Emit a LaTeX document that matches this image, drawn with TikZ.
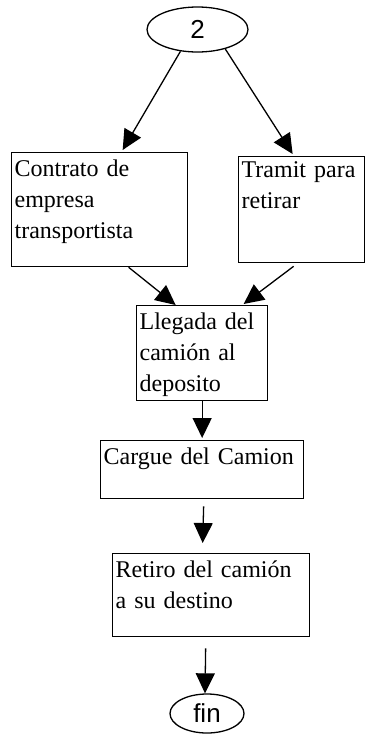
\documentclass[tikz,border=0pt]{standalone}
\usepackage{fontspec}
\setmainfont{Liberation Serif}
\newfontfamily\arialfam{Liberation Sans}
\usetikzlibrary{arrows.meta,shapes.geometric}

\begin{document}
\begin{tikzpicture}[x=1pt,y=-1pt,
    caja/.style={draw, rectangle, line width=1.3pt, anchor=north west,
        align=left, inner xsep=3pt, inner ysep=0pt, text height=24pt,
        font=\fontsize{24}{31}\selectfont},
    terminal/.style={draw, ellipse, line width=1.3pt, inner sep=0pt,
        font=\arialfam\fontsize{26}{30}\selectfont},
    flecha/.style={line width=1.3pt, -{Triangle[length=20pt,width=19pt]}}]

\useasboundingbox (0,0) rectangle (365,739);

% Terminals & boxes
\node[  terminal,
        minimum width=101pt,
        minimum height=45pt
    ] (dos) at (197.5,29.5) {2};
\node[  caja,
        text width=170pt,
        text depth=90pt
    ] (contrato) at (11,152) {Contrato de\\empresa\\transportista};
\node[  caja,
        text width=120pt,
        text height=21pt,
        text depth=85pt
    ] (tramit) at (238,156) {Tramit para\\retirar};
\node[  caja,
        text width=125pt,
        text depth=71pt
    ] (llegada) at (136,305) {Llegada del\\cami\'on al\\deposito};
\node[  caja,
        text width=197pt,
        text depth=34pt
    ] (cargue) at (100,440) {Cargue del Camion};
\node[  caja,
        text width=191pt,
        text depth=59pt
    ] (retiro) at (112,553) {Retiro del cami\'on\\a su destino};
\node[  terminal,
        minimum width=74pt,
        minimum height=39pt
    ] (fin) at (207,713.5) {fin};

% Arrows
\draw
    (dos.-128) edge[flecha] ([xshift=23pt,yshift=2pt]contrato.north)
    (dos.-35) edge[flecha] ([xshift=-9pt,yshift=2pt]tramit.north)
    ([xshift=29pt]contrato.south) edge[flecha] ([xshift=-26.5pt]llegada.north)
    ([xshift=-8pt,yshift=-3pt]tramit.south) edge[flecha] ([xshift=41.5pt,yshift=1pt]llegada.north)
    (llegada.south) edge[flecha] ([yshift=2pt]cargue.north)
    ([xshift=1.5pt,yshift=-7pt]cargue.south) edge[flecha] ([xshift=-8.5pt,yshift=10pt]retiro.north)
    ([xshift=-5.5pt,yshift=-11pt]retiro.south) edge[flecha] ([xshift=-2pt]fin.north);
\end{tikzpicture}
\end{document}
